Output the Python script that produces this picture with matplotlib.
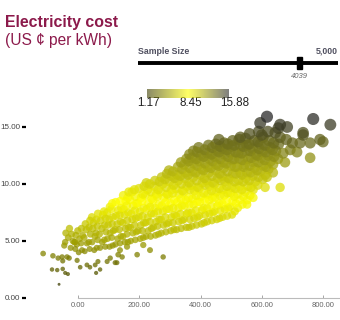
import numpy as np
import matplotlib
matplotlib.use("Agg")
import matplotlib.pyplot as plt
from matplotlib.colors import LinearSegmentedColormap, Normalize
from matplotlib.patches import Rectangle

plt.rcParams['font.family'] = ['Liberation Sans', 'DejaVu Sans']

# main cloud of samples (x value, electricity cost in US cents per kWh)
core_x = [-24, -17, -21,
          2, -4, 5, -1,
          22, 29, 20, 27, 24,
          53, 46, 55, 48, 51, 45,
          72, 79, 70, 78, 74, 81,
          103, 96, 105, 98, 102, 95, 104,
          122, 129, 121, 128, 124, 131, 123,
          153, 147, 155, 146, 152, 149, 156, 148,
          172, 179, 171, 177, 174, 180, 170, 176,
          203, 196, 205, 198, 202, 195, 206, 199,
          222, 229, 221, 228, 224, 230, 220, 227, 223,
          253, 246, 255, 248, 252, 245, 256, 249, 251,
          272, 279, 271, 277, 274, 280, 270, 276, 273,
          303, 296, 305, 298, 302, 295, 306, 299, 304, 297,
          322, 329, 321, 328, 324, 330, 320, 327, 323, 326,
          353, 346, 355, 348, 352, 345, 356, 349, 351, 347, 354,
          372, 379, 371, 377, 374, 380, 370, 376, 373, 378, 371, 377,
          403, 396, 405, 398, 402, 395, 406, 399, 404, 397, 401, 394,
          422, 429, 421, 428, 424, 430, 420, 427, 423, 429, 421, 426,
          453, 446, 455, 448, 452, 445, 456, 449, 451, 447, 454, 450,
          472, 479, 471, 477, 474, 480, 470, 476, 473, 478, 471, 477,
          503, 496, 505, 498, 502, 495, 506, 499, 504, 497, 501, 505,
          522, 529, 521, 528, 524, 530, 520, 527, 523, 529, 526,
          553, 546, 555, 548, 552, 545, 556, 549, 551, 547,
          572, 579, 571, 577, 574, 580, 570, 576,
          603, 596, 605, 598, 602, 595, 604,
          622, 629, 621, 628, 624,
          653, 646, 655]
core_y = [4.4, 5.0, 5.6,
          4.0, 4.7, 5.2, 5.9,
          4.1, 4.8, 5.3, 6.0, 6.5,
          4.2, 4.9, 5.4, 6.1, 6.6, 7.1,
          4.4, 4.9, 5.6, 6.1, 6.8, 7.3,
          4.5, 5.2, 5.7, 6.4, 6.9, 7.5, 8.0,
          4.7, 5.2, 6.0, 6.5, 7.2, 7.7, 8.4,
          4.9, 5.4, 6.1, 6.6, 7.3, 7.8, 8.5, 9.0,
          5.0, 5.7, 6.2, 6.9, 7.4, 8.1, 8.6, 9.3,
          5.2, 5.9, 6.4, 7.1, 7.6, 8.3, 8.8, 9.6,
          5.4, 5.9, 6.6, 7.1, 7.8, 8.3, 9.0, 9.5, 10.1,
          5.5, 6.2, 6.7, 7.4, 7.9, 8.6, 9.1, 9.8, 10.3,
          5.7, 6.4, 6.9, 7.6, 8.1, 8.8, 9.3, 10.0, 10.6,
          5.9, 6.6, 7.1, 7.8, 8.3, 9.0, 9.5, 10.2, 10.7, 11.2,
          6.0, 6.7, 7.2, 7.9, 8.4, 9.1, 9.6, 10.3, 10.8, 11.5,
          6.2, 6.9, 7.4, 8.1, 8.6, 9.3, 9.8, 10.5, 11.0, 11.7, 12.2,
          6.3, 7.0, 7.5, 8.2, 8.7, 9.4, 9.9, 10.6, 11.1, 11.8, 12.3, 12.9,
          6.5, 7.2, 7.7, 8.4, 8.9, 9.6, 10.1, 10.8, 11.3, 12.0, 12.5, 13.2,
          6.7, 7.4, 7.9, 8.6, 9.1, 9.8, 10.3, 11.0, 11.5, 12.2, 12.7, 13.4,
          6.9, 7.6, 8.1, 8.8, 9.3, 10.0, 10.5, 11.2, 11.7, 12.4, 12.9, 13.5,
          7.1, 7.8, 8.3, 9.0, 9.5, 10.2, 10.7, 11.4, 11.9, 12.6, 13.1, 13.6,
          7.3, 8.0, 8.5, 9.2, 9.7, 10.4, 10.9, 11.6, 12.1, 12.8, 13.3, 13.8,
          7.9, 8.6, 9.1, 9.8, 10.3, 11.0, 11.5, 12.2, 12.7, 13.4, 13.9,
          8.6, 9.3, 9.8, 10.5, 11.0, 11.7, 12.2, 12.9, 13.4, 14.0,
          9.5, 10.2, 10.7, 11.4, 11.9, 12.6, 13.1, 13.8,
          10.4, 11.1, 11.6, 12.3, 12.8, 13.5, 14.1,
          11.3, 12.0, 12.5, 13.2, 13.8,
          12.2, 12.9, 13.5]

# extra samples sitting between the columns above
fill_x = [-9, -12, -7,
          13, 10, 15, 11,
          38, 35, 40, 36, 39,
          61, 64, 59, 63, 60, 65,
          89, 86, 91, 87, 90, 85,
          113, 110, 115, 111, 114, 109, 112,
          137, 140, 135, 139, 136, 141, 138,
          163, 160, 165, 161, 164, 159, 162, 166,
          187, 190, 185, 189, 186, 191, 188, 184,
          213, 210, 215, 211, 214, 209, 212, 216,
          237, 240, 235, 239, 236, 241, 238, 234,
          263, 260, 265, 261, 264, 259, 262, 266,
          287, 290, 285, 289, 286, 291, 288, 284, 290,
          313, 310, 315, 311, 314, 309, 312, 316, 310,
          337, 340, 335, 339, 336, 341, 338, 334, 340, 336,
          362, 365, 360, 364, 361, 366, 363, 359, 365, 361, 364,
          387, 390, 385, 389, 386, 391, 388, 384, 390, 386, 389,
          412, 415, 410, 414, 411, 416, 413, 409, 415, 411, 414,
          437, 440, 435, 439, 436, 441, 438, 434, 440, 436, 439,
          462, 465, 460, 464, 461, 466, 463, 459, 465, 461, 464,
          487, 490, 485, 489, 486, 491, 488, 484, 490, 486, 489,
          512, 515, 510, 514, 511, 516, 513, 509, 515, 511,
          537, 540, 535, 539, 536, 541, 538, 534, 540,
          562, 565, 560, 564, 561, 566, 563, 559,
          587, 590, 585, 589, 586, 591, 588,
          612, 615, 610, 614, 611,
          637, 640, 635, 639]
fill_y = [4.3, 4.9, 5.5,
          4.2, 4.8, 5.5, 6.1,
          4.3, 4.9, 5.6, 6.2, 6.8,
          4.4, 5.1, 5.7, 6.3, 6.9, 7.4,
          4.5, 5.1, 5.8, 6.4, 7.0, 7.6,
          4.6, 5.3, 5.9, 6.5, 7.1, 7.8, 8.3,
          4.8, 5.4, 6.0, 6.7, 7.3, 7.9, 8.5,
          4.9, 5.6, 6.2, 6.8, 7.5, 8.1, 8.8, 9.3,
          5.1, 5.8, 6.4, 7.0, 7.7, 8.3, 8.9, 9.5,
          5.3, 5.9, 6.6, 7.2, 7.9, 8.5, 9.1, 9.8,
          5.4, 6.1, 6.7, 7.4, 8.0, 8.7, 9.3, 10.0,
          5.6, 6.3, 6.9, 7.6, 8.2, 8.9, 9.5, 10.2,
          5.8, 6.5, 7.1, 7.8, 8.4, 9.1, 9.7, 10.4, 10.9,
          6.0, 6.6, 7.3, 7.9, 8.6, 9.2, 9.9, 10.5, 11.1,
          6.1, 6.8, 7.4, 8.1, 8.7, 9.4, 10.0, 10.7, 11.3, 11.9,
          6.2, 6.9, 7.5, 8.2, 8.8, 9.5, 10.1, 10.8, 11.4, 12.0, 12.6,
          6.4, 7.1, 7.7, 8.4, 9.0, 9.7, 10.3, 11.0, 11.6, 12.2, 12.8,
          6.6, 7.3, 7.9, 8.6, 9.2, 9.9, 10.5, 11.2, 11.8, 12.4, 13.0,
          6.8, 7.5, 8.1, 8.8, 9.4, 10.1, 10.7, 11.4, 12.0, 12.6, 13.2,
          7.0, 7.7, 8.3, 9.0, 9.6, 10.3, 10.9, 11.6, 12.2, 12.8, 13.3,
          7.2, 7.9, 8.5, 9.2, 9.8, 10.5, 11.1, 11.8, 12.4, 13.0, 13.5,
          7.6, 8.3, 8.9, 9.6, 10.2, 10.9, 11.5, 12.2, 12.8, 13.4,
          8.2, 8.9, 9.5, 10.2, 10.8, 11.5, 12.1, 12.7, 13.3,
          9.0, 9.7, 10.3, 11.0, 11.6, 12.3, 12.9, 13.5,
          9.9, 10.6, 11.2, 11.9, 12.5, 13.1, 13.7,
          10.8, 11.5, 12.1, 12.8, 13.4,
          11.7, 12.4, 13.0, 13.6]

# sparse samples at the low end
low_x = [-114, -82, -85, -68, -50, -42, -33, -62, -65, -52, -36, -29, -50,
         -45, -32, -42, -40, -28, -10, -3, 7, 29, 39, 56, 65, 72, 59, 95,
         105, 131, 144, 127, 121, 213, 278, 193, 235, 160, 137]
low_y = [3.9, 3.7, 2.5, 2.45, 2.55, 2.2, 2.1, 1.2, 3.5, 3.6, 3.6, 3.5, 3.25,
         4.6, 5.3, 4.9, 5.7, 6.1, 4.9, 3.3, 2.7, 2.9, 2.7, 2.9, 3.2, 2.5, 2.2,
         3.2, 3.5, 3.8, 3.6, 3.1, 3.1, 4.65, 3.6, 3.8, 4.2, 4.5, 4.2]

# sparse samples at the high end
high_x = [552, 572, 611, 637, 676, 617, 670, 660, 460, 530, 600, 660,
          693, 715, 725, 700, 680, 758, 735, 758, 800, 790,
          644, 620, 590, 560, 654, 683, 660, 595, 617, 735, 768, 824]
high_y = [8.2, 8.8, 9.7, 11.0, 11.9, 10.6, 12.7, 9.7, 13.9, 14.1, 14.3, 14.1,
          13.0, 12.8, 13.6, 13.6, 13.9, 12.3, 14.3, 13.6, 13.7, 13.9,
          14.5, 14.6, 14.6, 14.4, 14.9, 15.0, 15.2, 15.35, 15.9, 14.5, 15.7, 15.2]

y_ticks = [0, 5, 10, 15]
x_ticks = [0, 200, 400, 600, 800]
cost_range = [1.17, 15.88]
legend_labels = ['1.17', '8.45', '15.88']
sample_max = 5000
sample_size = 4039

cmap = LinearSegmentedColormap.from_list('cost', ['#3c3c00', '#ffff00', '#2a2a2a'])
norm = Normalize(cost_range[0], cost_range[1])

xs = np.array(low_x + core_x + fill_x + high_x, dtype=float)
ys = np.array(low_y + core_y + fill_y + high_y, dtype=float)
radius_px = 1.6 * np.sqrt(ys) - 0.3
sizes = (2 * radius_px * 0.72) ** 2

fig = plt.figure(figsize=(3.4, 3.2), dpi=100)

ax = fig.add_axes([22 / 340, 22 / 320, 318 / 340, 188 / 320])
ax.scatter(xs, ys, s=sizes, c=ys, cmap=cmap, norm=norm, alpha=0.75,
           linewidths=0, clip_on=False)
ax.set_xlim(-183, 855.5)
ax.set_ylim(0, 16.49)
ax.set_yticks(y_ticks)
ax.set_yticklabels(['%.2f' % v for v in y_ticks])
ax.set_xticks(x_ticks)
ax.set_xticklabels(['%.2f' % v for v in x_ticks])
for side in ['left', 'top', 'right']:
    ax.spines[side].set_visible(False)
ax.spines['bottom'].set_color('#bbbbbb')
ax.spines['bottom'].set_linewidth(0.8)
ax.spines['bottom'].set_bounds(0, 855.5)
ax.tick_params(axis='y', direction='in', length=3, width=1.6, color='black',
               labelsize=5.8, labelcolor='#444444', pad=1.5)
ax.tick_params(axis='x', direction='in', length=2, width=0.6, color='#999999',
               labelsize=5.5, labelcolor='#666666', pad=3)

# overlay in pixel coordinates for title, slider and colour legend
ov = fig.add_axes([0, 0, 1, 1])
ov.set_xlim(0, 340)
ov.set_ylim(320, 0)
ov.axis('off')
ov.patch.set_alpha(0)

ov.text(5, 27, 'Electricity cost', fontsize=11.4, fontweight='bold',
        color='#8c1a4b', va='baseline')
ov.text(5, 45, '(US \u00a2 per kWh)', fontsize=11.2, color='#8c1a4b', va='baseline')

ov.text(138, 51, 'Sample Size', fontsize=6.3, fontweight='bold', color='#505060', va='center')
ov.text(338, 51, '{:,}'.format(sample_max), fontsize=6.3, fontweight='bold',
        color='#505060', va='center', ha='right')
ov.plot([138, 338], [63, 63], color='black', lw=2.8, solid_capstyle='butt')
hx = 138 + 200 * sample_size / sample_max
ov.add_patch(Rectangle((hx - 2.5, 57), 5, 12, color='black'))
ov.text(hx, 76, str(sample_size), fontsize=5.5, style='italic', color='#666666',
        ha='center', va='center')

cax = fig.add_axes([147 / 340, 1 - 98 / 320, 81 / 340, 9 / 320])
cax.imshow(np.linspace(0, 1, 256)[None, :], cmap=cmap, aspect='auto', alpha=0.6)
cax.axis('off')
for lab, px in zip(legend_labels, [148, 191, 235]):
    ov.text(px, 103.5, lab, fontsize=8.4, color='#222222', ha='center', va='center')

fig.savefig('out.png', dpi=100)
